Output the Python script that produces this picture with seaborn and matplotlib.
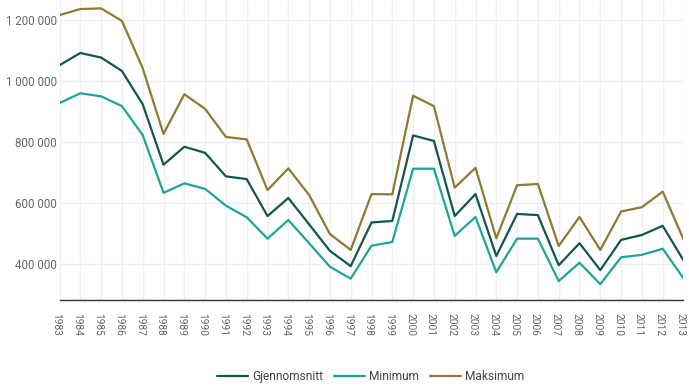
import matplotlib
matplotlib.use("Agg")
import matplotlib.pyplot as plt
import matplotlib.ticker as mticker
import matplotlib.transforms as mtransforms
import pandas as pd
import seaborn as sns

years = list(range(1983, 2014))

gjennomsnitt = [1052000, 1092000, 1077000, 1033000, 924000, 726000, 785000, 765000,
                688000, 679000, 558000, 617000, 531000, 444000, 394000, 537000,
                542000, 822000, 804000, 558000, 630000, 427000, 565000, 561000,
                397000, 469000, 381000, 480000, 496000, 526000, 413000]

minimum = [928000, 960000, 950000, 918000, 823000, 634000, 665000, 647000,
           592000, 554000, 484000, 545000, 469000, 392000, 353000, 461000,
           473000, 713000, 713000, 493000, 555000, 374000, 484000, 484000,
           345000, 405000, 335000, 423000, 431000, 451000, 354000]

maksimum = [1216000, 1236000, 1238000, 1197000, 1042000, 827000, 957000, 909000,
            817000, 809000, 643000, 714000, 627000, 499000, 447000, 630000,
            629000, 952000, 918000, 651000, 716000, 485000, 659000, 663000,
            460000, 555000, 447000, 573000, 587000, 638000, 482000]

series_names = ["Gjennomsnitt", "Minimum", "Maksimum"]
colors = {"Gjennomsnitt": "#13564d", "Minimum": "#1fa49b", "Maksimum": "#8e7a32"}
y_ticks = [400000, 600000, 800000, 1000000, 1200000]

df = pd.DataFrame({
    "År": years * 3,
    "Verdi": gjennomsnitt + minimum + maksimum,
    "Serie": [s for s in series_names for _ in years],
})

sns.set_style("white")
plt.rcParams["font.family"] = ["Roboto", "DejaVu Sans"]

fig = plt.figure(figsize=(6.89, 3.86), dpi=100)
ax = fig.add_axes([0.0864, 0.222, 0.9056, 0.778])

sns.lineplot(data=df, x="År", y="Verdi", hue="Serie", hue_order=series_names,
             palette=colors, linewidth=1.6, ax=ax, legend=True)

ax.set_xlim(1983, 2013)
ax.set_ylim(282100, 1265500)
ax.set_xticks(years)
ax.set_xticklabels([str(y) for y in years], rotation=-90, fontsize=7.3, color="#666666")
ax.set_yticks(y_ticks)
ax.yaxis.set_major_formatter(mticker.FuncFormatter(lambda v, p: f"{int(v):,}".replace(",", " ")))
ax.tick_params(axis="y", labelsize=8.3, labelcolor="#666666", length=0, pad=2)
ax.tick_params(axis="x", length=0, pad=9)

# nudge the rotated year labels slightly left so the last one stays inside
shift = mtransforms.ScaledTranslation(-3 / 100, 0, fig.dpi_scale_trans)
for lbl in ax.get_xticklabels():
    lbl.set_transform(lbl.get_transform() + shift)

ax.grid(True, color="#efefef", linewidth=1)
ax.set_axisbelow(True)
for side in ["top", "right", "left"]:
    ax.spines[side].set_visible(False)
ax.spines["bottom"].set_color("#333333")
ax.spines["bottom"].set_linewidth(1)
ax.set_xlabel("")
ax.set_ylabel("")

handles, labels = ax.get_legend_handles_labels()
ax.get_legend().remove()
fig.legend(handles, labels, loc="center", bbox_to_anchor=(0.538, 0.024), ncol=3,
           frameon=False, fontsize=8.6, handlelength=2.6, handletextpad=0.3,
           columnspacing=0.95, labelcolor="#444444")

fig.savefig("out.png", dpi=100)
